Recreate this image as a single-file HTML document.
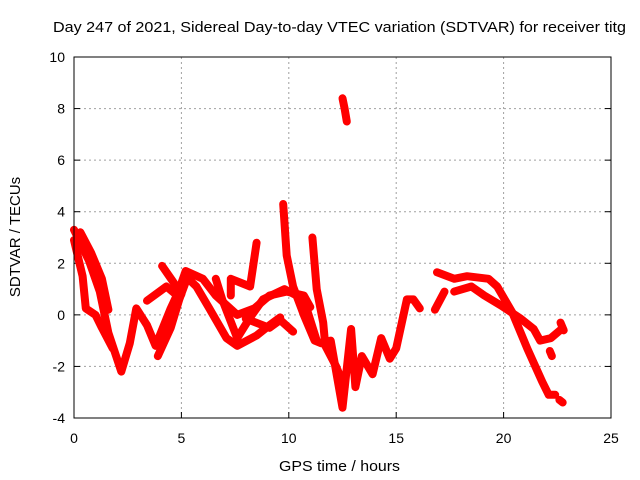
<!DOCTYPE html>
<html><head><meta charset="utf-8"><style>
body{margin:0;background:#fff}
svg{display:block;font-family:"Liberation Sans",sans-serif}
</style></head><body>
<svg id="chart" width="640" height="480" viewBox="0 0 640 480">
<text x="53" y="32" font-size="15" textLength="573" lengthAdjust="spacingAndGlyphs">Day 247 of 2021, Sidereal Day-to-day VTEC variation (SDTVAR) for receiver titg</text>
<text x="279" y="471" font-size="15" textLength="121" lengthAdjust="spacingAndGlyphs">GPS time / hours</text>
<text x="20" y="237" font-size="15" text-anchor="middle" transform="rotate(-90 20 237)">SDTVAR / TECUs</text>
<g id="grid"></g>
<g id="ticks"></g>
<g id="series"></g>
<rect x="74" y="57" width="537" height="361" fill="none" stroke="#000" stroke-width="1"/>
</svg>
<script>
const xTicks=[0,5,10,15,20,25];
const yTicks=[-4,-2,0,2,4,6,8,10];
const trackA=[[0,3.3],[0.7,2.1],[1.2,0.9],[1.6,-0.7],[2.2,-2.2],[2.6,-1.1],[2.9,0.25],[3.4,-0.4],[3.8,-1.2],[4.5,0.25],[5.2,1.5],[5.7,1.1],[6.3,0.25],[7.1,-0.9],[7.6,-1.2],[8.5,-0.8],[9.1,-0.4],[9.6,-0.1]];
const trackA2=[[0,2.9],[0.4,1.5],[0.55,0.25],[1.0,0.0],[1.3,-0.5],[1.8,-1.3]];
const trackA3=[[0.3,3.2],[0.8,2.4],[1.3,1.4],[1.6,0.2]];
const trackB=[[3.4,0.55],[4.3,1.1],[4.8,0.75],[5.2,1.7],[6.0,1.4],[6.6,0.75],[7.6,0.0],[8.4,0.25],[9.1,0.75],[9.9,0.9],[10.7,0.75],[11.0,0.3]];
const trackC=[[3.9,-1.6],[4.5,-0.5],[4.9,0.6],[5.3,1.5]];
const trackC2=[[4.1,1.9],[4.6,1.3],[5.0,0.8]];
const trackD=[[6.6,1.4],[6.9,0.6],[7.6,-0.9],[8.2,-0.1],[8.8,0.6],[9.8,1.0],[10.7,0.6],[11.3,-1.0]];
const trackE=[[8.0,-0.15],[9.1,-0.5],[9.6,-0.2],[10.2,-0.65]];
const trackF=[[7.3,0.75],[7.3,1.4],[8.2,1.1],[8.5,2.8]];
const spike1=[[9.74,4.3],[9.9,2.3],[10.2,1.1],[10.7,0.0],[11.2,-1.0],[11.5,-1.1],[11.95,-1.0],[12.5,-3.6],[12.9,-0.55],[13.1,-2.8],[13.4,-1.6],[13.9,-2.3],[14.3,-0.9],[14.7,-1.7],[15.0,-1.3],[15.5,0.6],[15.8,0.6],[16.1,0.25]];
const spike2=[[11.1,3.0],[11.3,1.0],[11.6,-0.3],[11.7,-1.2],[12.2,-2.0],[12.6,-2.8]];
const spike3=[[12.5,8.4],[12.6,8.0],[12.7,7.5]];
const trackG=[[16.9,1.65],[17.7,1.4],[18.3,1.5],[19.3,1.4],[19.7,1.1],[20.4,0.1],[21.1,-1.3],[21.8,-2.6],[22.1,-3.1],[22.4,-3.1]];
const trackH=[[17.7,0.9],[18.5,1.1],[19.1,0.75],[19.9,0.35],[20.8,-0.15],[21.4,-0.55],[21.7,-1.0],[22.2,-0.9],[22.7,-0.55]];
const trackI=[[16.8,0.2],[17.25,0.9]];
const blob1=[[22.15,-1.4],[22.25,-1.6]];
const blob2=[[22.6,-3.3],[22.75,-3.4]];
const blob3=[[22.65,-0.3],[22.8,-0.6]];
const tracks=[trackA,trackA2,trackA3,trackB,trackC,trackC2,trackD,trackE,trackF,spike1,spike2,spike3,trackG,trackH,trackI,blob1,blob2,blob3];
const X0=74,X1=611,Y0=418,Y1=57;
const sx=h=>X0+(h-0)/25*(X1-X0);
const sy=v=>Y0-(v+4)/14*(Y0-Y1);
const NS="http://www.w3.org/2000/svg";
const grid=document.getElementById('grid'),ticks=document.getElementById('ticks'),ser=document.getElementById('series');
function mk(tag,attrs,parent){const e=document.createElementNS(NS,tag);for(const k in attrs)e.setAttribute(k,attrs[k]);parent.appendChild(e);return e;}
xTicks.forEach(t=>{
  const x=sx(t);
  if(t>0&&t<25){const g=mk('line',{x1:x,x2:x,y1:Y1,y2:Y0,stroke:'#a0a0a0','stroke-dasharray':'2,3'},grid);
  
  }
  const tl=mk('line',{x1:x,x2:x,y1:Y0,y2:Y0-6,stroke:'#000'},ticks);
  
  
  const tx=mk('text',{x:x,y:Y0+25,'font-size':14,'text-anchor':'middle'},ticks);tx.textContent=t;
  
  
});
yTicks.forEach(t=>{
  const y=sy(t);
  if(t>-4&&t<10){const g=mk('line',{x1:X0,x2:X1,y1:y,y2:y,stroke:'#a0a0a0','stroke-dasharray':'2,3'},grid);
  
  }
  const tl=mk('line',{x1:X0,x2:X0+6,y1:y,y2:y,stroke:'#000'},ticks);
  
  
  const tr=mk('line',{x1:X1,x2:X1-6,y1:y,y2:y,stroke:'#000'},ticks);
  
  
  const tx=mk('text',{x:X0-9,y:y+5,'font-size':14,'text-anchor':'end'},ticks);tx.textContent=t;
  
  
});
tracks.forEach(tr=>{
  const pts=tr.map(p=>sx(p[0]).toFixed(1)+','+sy(p[1]).toFixed(1)).join(' ');
  const pl=mk('polyline',{points:pts,fill:'none',stroke:'#ff0000','stroke-width':8,'stroke-linejoin':'round','stroke-linecap':'round'},ser);
  
  
});
</script>
</body></html>
